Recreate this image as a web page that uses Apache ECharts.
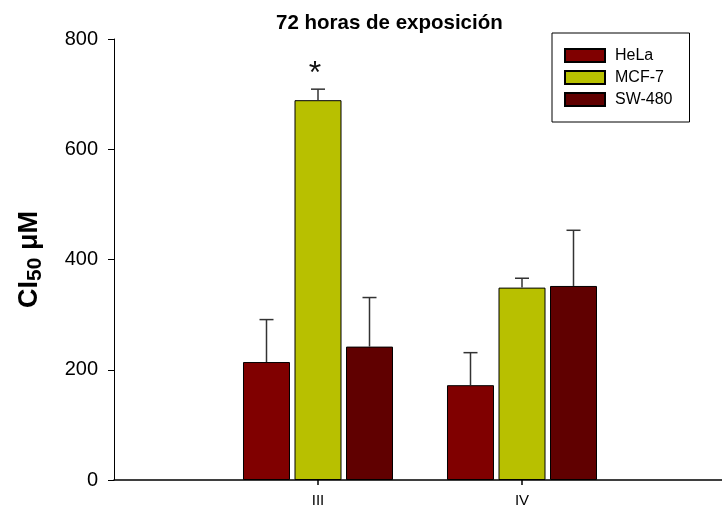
<!DOCTYPE html>
<html>
<head>
<meta charset="utf-8">
<script src="https://cdn.jsdelivr.net/npm/echarts@6/dist/echarts.min.js"></script>
<style>
  html, body { margin: 0; padding: 0; background: #fff; }
  #chart { width: 722px; height: 510px; }
</style>
</head>
<body>
<div id="chart"></div>
<script>
// Axis categories (empty slots pad both ends of the axis)
const categories = ['', 'III', 'IV', ''];
const groupIndex = [1, 2];

// Cell lines and IC50 means (µM) with upper error
const seriesNames = ['HeLa', 'MCF-7', 'SW-480'];
const helaValues = [214, 172];
const mcf7Values = [689, 349];
const sw480Values = [242, 352];
const helaErrors = [77, 59];
const mcf7Errors = [20, 17];
const sw480Errors = [89, 101];
// Significance marks drawn above MCF-7 bars
const mcf7Marks = ['*', ''];
const yTicks = [0, 200, 400, 600, 800];

const colors = ['#800000', '#b8c000', '#600000'];
const FONT = '"Liberation Sans", Arial, sans-serif';
const BAR_W = 47;
const BAR_GAP = 4.5;

const valueSets = [helaValues, mcf7Values, sw480Values];
const errorSets = [helaErrors, mcf7Errors, sw480Errors];
const markSets = [['', ''], mcf7Marks, ['', '']];

const barSeries = seriesNames.map((name, k) => ({
  name: name,
  type: 'bar',
  barWidth: BAR_W,
  barGap: (BAR_GAP / BAR_W * 100).toFixed(1) + '%',
  itemStyle: { color: colors[k], borderColor: '#000', borderWidth: 1 },
  emphasis: { disabled: true },
  data: groupIndex.map((c, i) => [c, valueSets[k][i]])
}));

const errorSeries = seriesNames.map((name, k) => ({
  type: 'custom',
  z: 5,
  silent: true,
  data: groupIndex.map((c, i) => [c, valueSets[k][i], errorSets[k][i]]),
  renderItem: function (params, api) {
    const x = api.value(0), v = api.value(1), e = api.value(2);
    const base = api.coord([x, v]);
    const top = api.coord([x, v + e]);
    const cx = base[0] + (k - 1) * (BAR_W + BAR_GAP);
    const st = { stroke: '#333', lineWidth: 1.5 };
    const children = [
      { type: 'line', shape: { x1: cx, y1: base[1], x2: cx, y2: top[1] }, style: st },
      { type: 'line', shape: { x1: cx - 7, y1: top[1], x2: cx + 7, y2: top[1] }, style: st }
    ];
    const mark = markSets[k][params.dataIndex];
    if (mark) {
      children.push({
        type: 'text',
        style: {
          text: mark, x: cx - 3, y: top[1] - 15,
          fill: '#111', font: '32px ' + FONT,
          align: 'center', verticalAlign: 'middle'
        }
      });
    }
    return { type: 'group', children: children };
  }
}));

const chart = echarts.init(document.getElementById('chart'), null, { renderer: 'canvas' });
chart.setOption({
  animation: false,
  backgroundColor: '#fff',
  textStyle: { fontFamily: FONT },
  title: {
    text: '72 horas de exposición',
    left: 271, top: 8,
    textStyle: { fontSize: 20.5, fontWeight: 'bold', color: '#000', fontFamily: FONT }
  },
  legend: {
    orient: 'vertical',
    left: 552, top: 33,
    padding: [14, 17, 14, 12],
    itemGap: 5,
    itemWidth: 40, itemHeight: 13,
    icon: 'rect',
    borderColor: '#000', borderWidth: 1,
    backgroundColor: '#fff',
    selectedMode: false,
    data: seriesNames,
    textStyle: { fontSize: 16, color: '#000', fontFamily: FONT, lineHeight: 17, padding: [0, 0, 0, 5] }
  },
  grid: { left: 114, width: 612, top: 39, bottom: 30, containLabel: false, outerBoundsMode: 'none' },
  xAxis: {
    type: 'category',
    data: categories,
    boundaryGap: false,
    axisLine: { show: true, lineStyle: { color: '#000', width: 1.5 } },
    axisTick: {
      show: true, length: 5, lineStyle: { color: '#000', width: 1.5 },
      interval: (idx) => categories[idx] !== ''
    },
    axisLabel: { show: true, interval: 0, margin: 13, fontSize: 15, color: '#000', fontFamily: FONT },
    splitLine: { show: false }
  },
  yAxis: {
    type: 'value',
    min: yTicks[0], max: yTicks[yTicks.length - 1], interval: yTicks[1] - yTicks[0],
    axisLine: { show: true, lineStyle: { color: '#000', width: 1 } },
    axisTick: { show: true, length: 6, lineStyle: { color: '#000', width: 1 } },
    axisLabel: { margin: 16, fontSize: 20, color: '#000', fontFamily: FONT },
    splitLine: { show: false },
    name: '{m|CI}{s|50}{m| μM}',
    nameLocation: 'middle',
    nameRotate: 90,
    nameGap: 68,
    nameTextStyle: {
      rich: {
        m: { fontSize: 27, fontWeight: 'bold', color: '#000', fontFamily: FONT },
        s: { fontSize: 21, fontWeight: 'bold', color: '#000', fontFamily: FONT, padding: [12, 0, 0, 0] }
      }
    }
  },
  series: barSeries.concat(errorSeries)
});
</script>
</body>
</html>
